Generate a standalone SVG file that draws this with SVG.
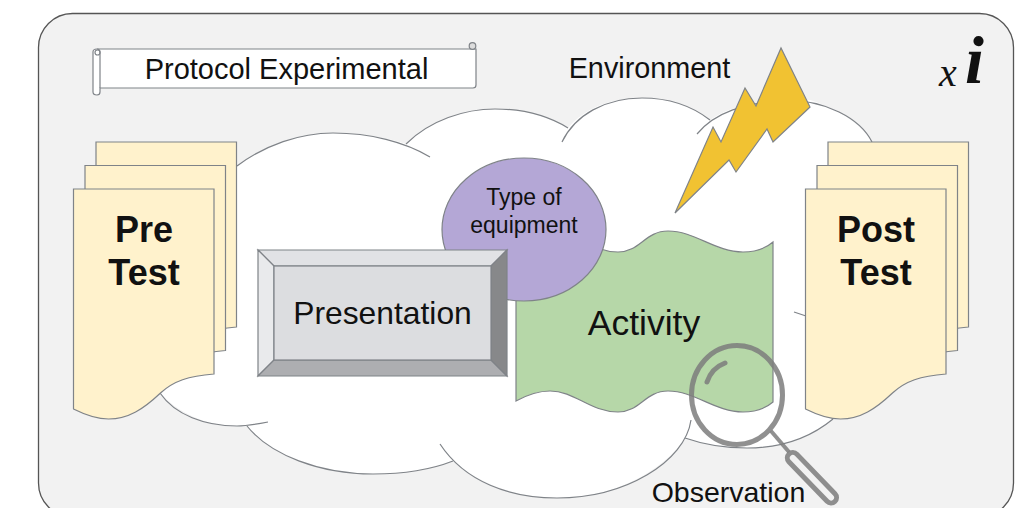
<svg xmlns="http://www.w3.org/2000/svg" width="1034" height="508" viewBox="0 0 1034 508">
<style>
.s{stroke:#7f8388;stroke-width:1.2;}
.t{font-family:"Liberation Sans",Arial,sans-serif;fill:#111;text-anchor:middle;}
.doc{fill:#fff2cc;stroke:#7f8388;stroke-width:1.2;}
.arc{fill:none;stroke:#7f8388;stroke-width:1.2;}
.mag{fill:none;stroke:#7d7d7d;stroke-opacity:.85;}
</style>
<defs>
<path id="doc" d="M0 0H140.500V185C115 187 100 192 87 204C70 220 55 230 35 230C22 230 12 226 0 220Z"/>
</defs>
<rect width="1034" height="508" fill="#fff"/>
<rect id="frame" x="38.500" y="13.500" width="975" height="503.500" rx="34" fill="#f2f2f2" stroke="#555" stroke-width="1.300"/>
<g id="cloud">
<path fill="#fff" d="M237 166C265 145 300 133 333 133C360 133 385 137 406 144C430 120 465 109 495 109C525 109 550 117 568 128C585 108 610 98 642 98C670 98 692 106 710 120C730 106 760 100 810 100C835 108 860 122 872 142L900 300L850 410L833 419C810 438 780 448 747 448C725 448 705 445 685 438C670 462 625 498 557 498C520 498 480 485 453 461C430 470 405 474 373 474C320 474 270 455 247 426C220 428 185 420 160 393L120 300Z"/>
<path class="arc" d="M237 166C265 145 300 133 333 133C370 133 405 142 430 157"/>
<path class="arc" d="M406 144C430 120 465 109 495 109C525 109 550 117 568 128"/>
<path class="arc" d="M562 142C575 115 605 98 642 98C670 98 692 106 710 120"/>
<path class="arc" d="M697 134C715 112 745 103 785 100C825 100 860 118 872 142"/>
<path class="arc" d="M794 312L806 316"/>
<path class="arc" d="M833 419C810 438 780 448 747 448C725 448 705 445 685 438"/>
<path class="arc" d="M691 420C685 462 625 498 557 498C510 498 465 482 440 444"/>
<path class="arc" d="M453 461C430 470 405 474 373 474C320 474 270 455 247 426"/>
<path class="arc" d="M160 393C175 415 205 426 237 426C248 426 258 424 268 422"/>
</g>
<g id="protocol">
<path class="s" fill="#fff" d="M97 49H476V85Q476 88 473 88H100V92Q100 95 97 95Q93 95 93 92V52Q93 49 97 49Z"/>
<path class="s" fill="none" d="M100 88V52Q100 49 97 49"/>
<circle class="s" cx="97.500" cy="52.500" r="2.500" fill="none"/>
<circle class="s" cx="472.500" cy="46" r="3.300" fill="#ddd"/>
<text class="t" x="286.500" y="79" font-size="29">Protocol Experimental</text>
</g>
<text id="environment" class="t" x="649.500" y="78" font-size="28.800">Environment</text>
<g id="xi" font-family="'Liberation Serif',serif" font-style="italic" fill="#111">
<text x="939" y="86" font-size="40">x</text>
<text x="965" y="83" font-size="68" font-weight="bold">i</text>
</g>
<g id="pre-test">
<use href="#doc" class="doc" x="96" y="142"/>
<use href="#doc" class="doc" x="85" y="165.500"/>
<use href="#doc" class="doc" x="73.500" y="189"/>
<text class="t" x="144" y="242" font-size="36" font-weight="bold">Pre</text>
<text class="t" x="144" y="285" font-size="36" font-weight="bold">Test</text>
</g>
<g id="post-test">
<use href="#doc" class="doc" x="828" y="142"/>
<use href="#doc" class="doc" x="817" y="165.500"/>
<use href="#doc" class="doc" x="805.500" y="189"/>
<text class="t" x="876" y="242" font-size="36" font-weight="bold">Post</text>
<text class="t" x="876" y="285" font-size="36" font-weight="bold">Test</text>
</g>
<g id="lightning">
<polygon class="s" fill="#f1c232" points="675,213 713,127 721,142 745,88 756,106 781,48 810,107 773,142 767,129 736,172 729,160"/>
</g>
<g id="activity">
<path class="s" fill="#b6d7a8" d="M516 241C527 235 538 231 550 231C575 231 590 252 618 252C640 252 645 231 668 231C695 231 715 252 743 252C755 252 765 249 773 242V402C765 409 755 412 743 412C715 412 695 391 668 391C645 391 640 412 618 412C590 412 575 391 550 391C538 391 527 395 516 401Z"/>
<text class="t" x="644" y="335" font-size="35.500">Activity</text>
</g>
<g id="equipment">
<ellipse class="s" cx="524" cy="229.500" rx="82" ry="71.500" fill="#b4a7d6"/>
<text class="t" x="524" y="205" font-size="23">Type of</text>
<text class="t" x="524" y="233" font-size="23">equipment</text>
</g>
<g id="presentation">
<rect x="258" y="250" width="249" height="126" fill="#dcdde0"/>
<polygon class="s" fill="#e1e2e5" points="258,250 507,250 491,266 274,266"/>
<polygon class="s" fill="#e9eaec" points="258,250 274,266 274,360 258,376"/>
<polygon class="s" fill="#adaeb1" points="258,376 274,360 491,360 507,376"/>
<polygon class="s" fill="#87888a" points="507,250 491,266 491,360 507,376"/>
<rect class="s" x="274" y="266" width="217" height="94" fill="#dcdde0"/>
<text class="t" x="382.500" y="324" font-size="31.800">Presentation</text>
</g>
<g id="magnifier">
<ellipse class="mag" cx="737" cy="395" rx="45.500" ry="49.500" stroke-width="5"/>
<path class="mag" stroke-width="5" stroke-linecap="round" d="M707 382C710 373 717 366 725 363"/>
<path class="mag" stroke-width="4" d="M771 431L789 452"/>
<rect class="mag" x="0" y="-5.500" width="66" height="11" rx="5.500" stroke-width="5" transform="translate(789 454) rotate(46)"/>
</g>
<text id="observation" class="t" x="728.500" y="502" font-size="28.500">Observation</text>
</svg>
